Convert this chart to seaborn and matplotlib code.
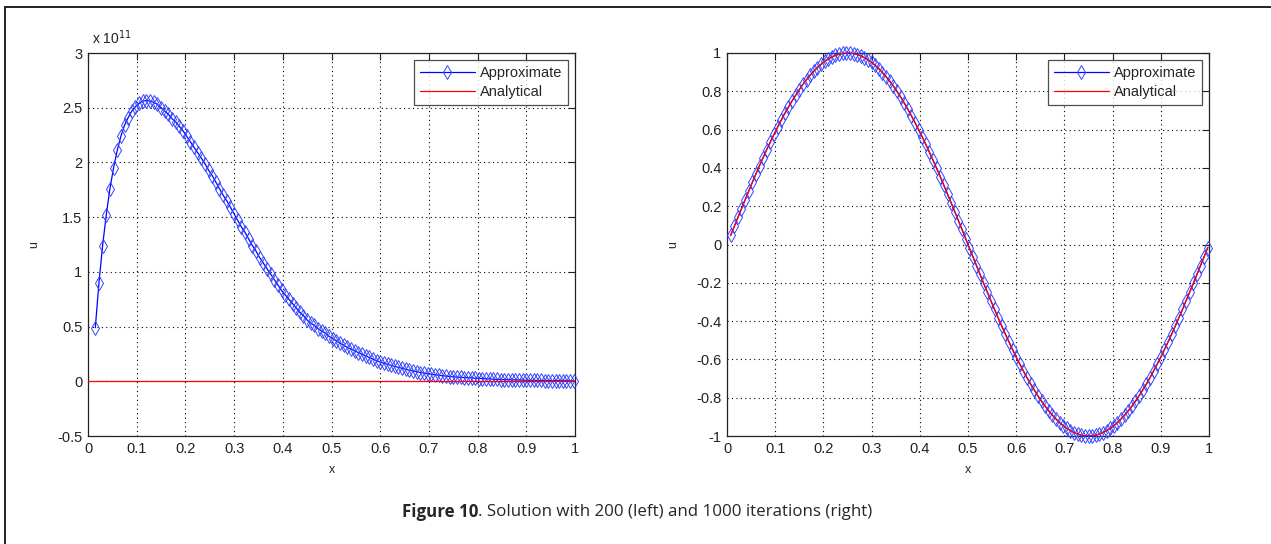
import numpy as np
import pandas as pd
import matplotlib
matplotlib.use("Agg")
import matplotlib.pyplot as plt
import seaborn as sns
from matplotlib.ticker import FuncFormatter
from matplotlib.patches import Rectangle

# ---------------- data ----------------
# grid spacing (both runs use the same uniform mesh)
grid_step = 0.0075
left_first_index = 2      # left run: first plotted node is the 2nd node
right_first_index = 1

# left panel (200 iterations), approximate solution in units of 1e11
left_scale = 1e11
left_approx = [
    0.49, 0.90, 1.24, 1.52, 1.76, 1.95, 2.11, 2.24, 2.34, 2.41,
    2.47, 2.51, 2.54, 2.56, 2.565, 2.56, 2.55, 2.53, 2.50, 2.47,
    2.44, 2.40, 2.37, 2.33, 2.29, 2.24, 2.19, 2.14, 2.09, 2.04,
    1.99, 1.93, 1.88, 1.82, 1.76, 1.70, 1.65, 1.59, 1.53, 1.47,
    1.41, 1.36, 1.30, 1.24, 1.19, 1.13, 1.08, 1.03, 0.98, 0.93,
    0.88, 0.83, 0.79, 0.75, 0.71, 0.67, 0.63, 0.60, 0.56, 0.53,
    0.51, 0.48, 0.46, 0.44, 0.41, 0.39, 0.37, 0.35, 0.33, 0.31,
    0.294, 0.278, 0.262, 0.247, 0.232, 0.218, 0.203, 0.189, 0.175, 0.165,
    0.155, 0.145, 0.136, 0.127, 0.118, 0.109, 0.101, 0.094, 0.087, 0.080,
    0.074, 0.069, 0.064, 0.059, 0.055, 0.051, 0.047, 0.043, 0.040, 0.038,
    0.036, 0.033, 0.031, 0.029, 0.027, 0.025, 0.023, 0.022, 0.020, 0.019,
    0.017, 0.016, 0.015, 0.014, 0.013, 0.012, 0.011, 0.011, 0.010, 0.009,
    0.009, 0.008, 0.008, 0.007, 0.006, 0.006, 0.006, 0.005, 0.005, 0.005,
    0.004, 0.004,
]
left_analytical_x = [0.0, 1.0]
left_analytical_u = [0.0, 0.0]

# right panel (1000 iterations)
right_approx = [
    0.047, 0.094, 0.141, 0.187, 0.233, 0.279, 0.324, 0.368, 0.412, 0.454,
    0.496, 0.536, 0.575, 0.613, 0.649, 0.685, 0.718, 0.750, 0.780, 0.809,
    0.836, 0.861, 0.884, 0.905, 0.924, 0.941, 0.956, 0.969, 0.979, 0.988,
    0.994, 0.998, 1.000, 1.000, 0.997, 0.992, 0.985, 0.976, 0.965, 0.951,
    0.935, 0.918, 0.898, 0.876, 0.853, 0.827, 0.800, 0.771, 0.740, 0.707,
    0.673, 0.637, 0.600, 0.562, 0.523, 0.482, 0.440, 0.397, 0.354, 0.309,
    0.264, 0.218, 0.172, 0.125, 0.079, 0.031, -0.016, -0.063, -0.110, -0.156,
    -0.203, -0.249, -0.294, -0.339, -0.383, -0.426, -0.468, -0.509, -0.549, -0.588,
    -0.625, -0.661, -0.696, -0.729, -0.760, -0.790, -0.818, -0.844, -0.869, -0.891,
    -0.911, -0.930, -0.946, -0.960, -0.972, -0.982, -0.990, -0.996, -0.999, -1.000,
    -0.999, -0.996, -0.990, -0.982, -0.972, -0.960, -0.946, -0.930, -0.911, -0.891,
    -0.869, -0.844, -0.818, -0.790, -0.760, -0.729, -0.696, -0.661, -0.625, -0.588,
    -0.549, -0.509, -0.468, -0.426, -0.383, -0.339, -0.294, -0.249, -0.203, -0.156,
    -0.110, -0.063, -0.016,
]
right_analytical = list(right_approx)

x_ticks = [0, 0.1, 0.2, 0.3, 0.4, 0.5, 0.6, 0.7, 0.8, 0.9, 1]
left_y_ticks = [-0.5, 0, 0.5, 1, 1.5, 2, 2.5, 3]
right_y_ticks = [-1, -0.8, -0.6, -0.4, -0.2, 0, 0.2, 0.4, 0.6, 0.8, 1]

caption_bold = "Figure 10"
caption_rest = ". Solution with 200 (left) and 1000 iterations (right)"

# ---------------- frames ----------------
x_left = grid_step * (np.arange(len(left_approx)) + left_first_index)
x_right = grid_step * (np.arange(len(right_approx)) + right_first_index)

df_left = pd.DataFrame({"x": x_left, "u": np.array(left_approx) * left_scale})
df_left_an = pd.DataFrame({"x": left_analytical_x, "u": left_analytical_u})
df_right = pd.DataFrame({"x": x_right, "u": right_approx})
df_right_an = pd.DataFrame({"x": x_right, "u": right_analytical})

# ---------------- style ----------------
sns.set_style("white")
plt.rcParams["font.family"] = ["Liberation Sans", "DejaVu Sans"]
plt.rcParams["axes.edgecolor"] = "#222222"

fig = plt.figure(figsize=(12.71, 5.44), dpi=100)
W, H = 1271, 544

def frac(x0, x1, ytop, ybot):
    return [x0 / W, 1 - ybot / H, (x1 - x0) / W, (ybot - ytop) / H]

ax1 = fig.add_axes(frac(88, 575, 53, 436))
ax2 = fig.add_axes(frac(727, 1209, 53, 436))

blue = "#0000FF"
red = "#FF0000"

def draw(ax, dfa, dfb):
    sns.lineplot(data=dfa, x="x", y="u", ax=ax, color=blue, linewidth=0.9,
                 marker="d", markersize=7, markerfacecolor="none",
                 markeredgecolor="#3344ff", markeredgewidth=0.7, alpha=1.0,
                 label="Approximate", sort=False, estimator=None, clip_on=False,
                 zorder=3)
    sns.lineplot(data=dfb, x="x", y="u", ax=ax, color=red, linewidth=0.9,
                 label="Analytical", sort=False, estimator=None, zorder=4)
    ax.set_xlim(0, 1)
    ax.set_xticks(x_ticks)
    ax.xaxis.set_major_formatter(FuncFormatter(lambda v, p: f"{v:g}"))
    ax.grid(True, color="black", linestyle=(0, (1, 3)), linewidth=0.8)
    ax.tick_params(direction="in", length=5, width=0.8, top=True, right=True,
                   labelsize=10.5, colors="#222222", pad=4)
    for s in ax.spines.values():
        s.set_linewidth(0.9)
        s.set_visible(True)
    ax.set_xlabel("x", fontsize=9, labelpad=6)
    ax.set_ylabel("u", fontsize=9, labelpad=12)
    leg = ax.legend(loc="upper right", fontsize=10.5, handlelength=3.8,
                    frameon=True, fancybox=False, edgecolor="#222222",
                    borderaxespad=0.5, handletextpad=0.3, labelspacing=0.35,
                    borderpad=0.4)
    leg.get_frame().set_linewidth(0.9)
    leg.set_zorder(10)

draw(ax1, df_left, df_left_an)
ax1.set_ylim(left_y_ticks[0] * left_scale, left_y_ticks[-1] * left_scale)
ax1.set_yticks([t * left_scale for t in left_y_ticks])
ax1.yaxis.set_major_formatter(FuncFormatter(lambda v, p: f"{v / left_scale:g}"))
ax1.text(0.008, 1.015, r"x 10$^{11}$", transform=ax1.transAxes, fontsize=10,
         ha="left", va="bottom", color="#222222")

draw(ax2, df_right, df_right_an)
ax2.set_ylim(-1, 1)
ax2.set_yticks(right_y_ticks)
ax2.yaxis.set_major_formatter(FuncFormatter(lambda v, p: f"{v:g}"))

# caption
cap_size = 12.2
t1 = fig.text(0.5, 1 - 512 / H, caption_bold + caption_rest, alpha=0,
              fontsize=cap_size, family="Open Sans", ha="center", va="center")
fig.canvas.draw()
bb = t1.get_window_extent()
xb = bb.x0 / W
tb = fig.text(xb, 1 - 512 / H, caption_bold, fontsize=cap_size, family="Open Sans",
              weight="bold", ha="left", va="center")
fig.canvas.draw()
bb2 = tb.get_window_extent()
fig.text(bb2.x1 / W, 1 - 512 / H, caption_rest, fontsize=cap_size, family="Open Sans",
         ha="left", va="center")

# outer border (left and top edges visible)
fig.patches.append(Rectangle((5 / W, -0.05), 1.1, (1 - 7 / H) + 0.05,
                             transform=fig.transFigure, fill=False,
                             edgecolor="#222222", linewidth=1.4))

fig.savefig("out.png", dpi=100)
